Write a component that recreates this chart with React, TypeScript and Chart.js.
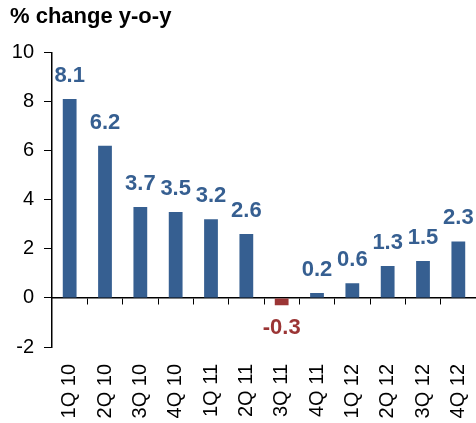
import React, { useEffect, useRef } from "react";
import { Chart, registerables } from "chart.js";

Chart.register(...registerables);

const categories = ["1Q 10", "2Q 10", "3Q 10", "4Q 10", "1Q 11", "2Q 11", "3Q 11", "4Q 11", "1Q 12", "2Q 12", "3Q 12", "4Q 12"];
const values = [8.1, 6.2, 3.7, 3.5, 3.2, 2.6, -0.3, 0.2, 0.6, 1.3, 1.5, 2.3];
const yTicks = [-2, 0, 2, 4, 6, 8, 10];
const titleText = "% change y-o-y";

const BLUE = "#365F91";
const RED = "#9B3535";
const FONT = "'Liberation Sans', Arial, sans-serif";

const labelPlugin = {
  id: "valueLabels",
  afterDatasetsDraw(chart: any) {
    const ctx = chart.ctx;
    const meta = chart.getDatasetMeta(0);
    ctx.save();
    ctx.font = `bold 22px ${FONT}`;
    ctx.textAlign = "center";
    ctx.textBaseline = "middle";
    meta.data.forEach((el: any, i: number) => {
      const v = values[i];
      ctx.fillStyle = v < 0 ? RED : BLUE;
      const y = v < 0 ? el.y + 23 : el.y - 23;
      ctx.fillText(v.toFixed(1), el.x, y);
    });
    ctx.restore();
  },
};

export default function App() {
  const ref = useRef<HTMLCanvasElement>(null);
  useEffect(() => {
    if (!ref.current) return;
    const chart = new Chart(ref.current, {
      type: "bar",
      data: {
        labels: categories,
        datasets: [
          {
            data: values,
            backgroundColor: values.map((v) => (v < 0 ? RED : BLUE)),
            categoryPercentage: 1,
            barPercentage: 0.39,
            xAxisID: "x",
            yAxisID: "y",
          },
        ],
      },
      options: {
        animation: false,
        responsive: false,
        devicePixelRatio: 1,
        layout: { padding: { left: 10, right: 0, top: 0, bottom: 0 } },
        plugins: {
          legend: { display: false },
          tooltip: { enabled: false },
          title: {
            display: true,
            text: titleText,
            align: "start",
            color: "#000",
            font: { family: FONT, size: 22, weight: "bold" },
            padding: { top: 4, bottom: 22 },
          },
        },
        scales: {
          x: {
            type: "category",
            position: "bottom",
            offset: true,
            grid: { display: false, drawTicks: false },
            border: { display: false },
            ticks: {
              color: "#000",
              font: { family: FONT, size: 20 },
              minRotation: 90,
              maxRotation: 90,
              padding: 17,
              autoSkip: false,
            },
            afterFit: (scale: any) => {
              scale.height = 76;
              scale.paddingLeft = 0;
              scale.paddingRight = 0;
            },
          },
          x2: {
            type: "category",
            axis: "x",
            labels: categories,
            position: { y: 0 },
            offset: true,
            grid: {
              display: true,
              drawOnChartArea: false,
              offset: true,
              drawTicks: true,
              tickLength: 6,
              color: "#000",
              lineWidth: 1,
            },
            border: { display: true, color: "#000", width: 1.5 },
            ticks: { display: false },
            afterFit: (scale: any) => {
              scale.paddingLeft = 0;
              scale.paddingRight = 0;
            },
          },
          y: {
            min: -2,
            max: 10,
            afterBuildTicks: (scale: any) => {
              scale.ticks = yTicks.map((v) => ({ value: v }));
            },
            grid: {
              drawOnChartArea: false,
              drawTicks: true,
              tickLength: 8,
              color: "#000",
            },
            border: { display: true, color: "#000", width: 1.5 },
            ticks: {
              color: "#000",
              font: { family: FONT, size: 20 },
              padding: 10,
            },
            afterFit: (scale: any) => {
              scale.width = 42;
            },
          },
        },
      } as any,
      plugins: [labelPlugin],
    });
    return () => chart.destroy();
  }, []);
  return (
    <div style={{ position: "absolute", left: 0, top: 0, width: 476, height: 423 }}>
      <canvas ref={ref} width={476} height={423} />
    </div>
  );
}
